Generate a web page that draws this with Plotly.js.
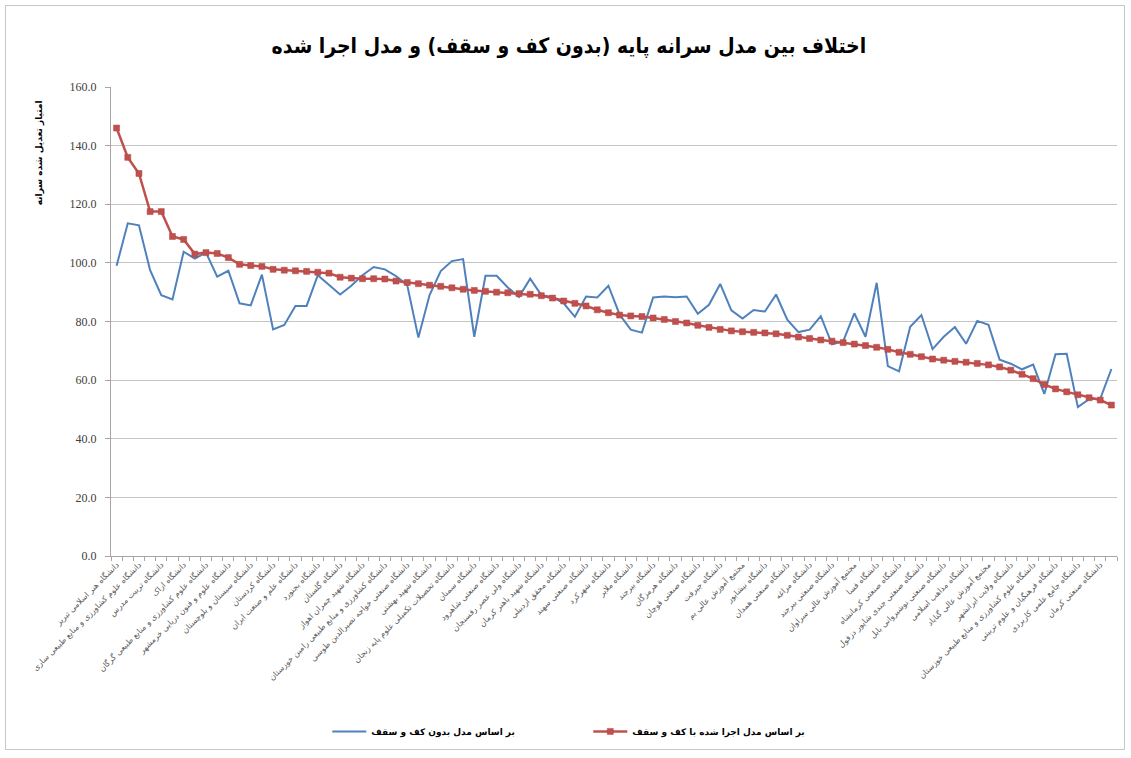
<!DOCTYPE html>
<html>
<head>
<meta charset="utf-8">
<script src="https://cdn.plot.ly/plotly-3.0.1.min.js"></script>
<style>
  html, body { margin: 0; padding: 0; background: #ffffff; }
  #wrap { position: relative; width: 1131px; height: 758px; }
  #chart { width: 1131px; height: 758px; }
  #frame { position: absolute; left: 5px; top: 5px; width: 1118px; height: 743px;
           border: 1px solid #c8c8c8; pointer-events: none; }
</style>
</head>
<body>
<div id="wrap"><div id="chart"></div><div id="frame"></div></div>
<script>
const categories = [
  "دانشگاه هنر اسلامی تبریز", "دانشگاه صنعتی شریف",
  "دانشگاه علوم کشاورزی و منابع طبیعی ساری", "دانشگاه تهران",
  "دانشگاه تربیت مدرس", "دانشگاه شیراز",
  "دانشگاه اراک", "دانشگاه صنعتی امیرکبیر",
  "دانشگاه علوم کشاورزی و منابع طبیعی گرگان", "دانشگاه تبریز",
  "دانشگاه علوم و فنون دریایی خرمشهر", "دانشگاه اصفهان",
  "دانشگاه سیستان و بلوچستان", "دانشگاه فردوسی مشهد",
  "دانشگاه کردستان", "دانشگاه صنعتی اصفهان",
  "دانشگاه علم و صنعت ایران", "دانشگاه گیلان",
  "دانشگاه بجنورد", "دانشگاه ارومیه",
  "دانشگاه گلستان", "دانشگاه زنجان",
  "دانشگاه شهید چمران اهواز", "دانشگاه رازی",
  "دانشگاه کشاورزی و منابع طبیعی رامین خوزستان", "دانشگاه یزد",
  "دانشگاه صنعتی خواجه نصیرالدین طوسی", "دانشگاه یاسوج",
  "دانشگاه شهید بهشتی", "دانشگاه کاشان",
  "دانشگاه تحصیلات تکمیلی علوم پایه زنجان", "دانشگاه علامه طباطبایی",
  "دانشگاه سمنان", "دانشگاه الزهرا",
  "دانشگاه صنعتی شاهرود", "دانشگاه بوعلی سینا",
  "دانشگاه ولی عصر رفسنجان", "دانشگاه مازندران",
  "دانشگاه شهید باهنر کرمان", "دانشگاه خوارزمی",
  "دانشگاه محقق اردبیلی", "دانشگاه قم",
  "دانشگاه صنعتی سهند", "دانشگاه لرستان",
  "دانشگاه شهرکرد", "دانشگاه شاهد",
  "دانشگاه ملایر", "دانشگاه صنعتی ارومیه",
  "دانشگاه بیرجند", "دانشگاه ایلام",
  "دانشگاه هرمزگان", "دانشگاه خلیج فارس",
  "دانشگاه صنعتی قوچان", "دانشگاه دامغان",
  "دانشگاه جیرفت", "دانشگاه حکیم سبزواری",
  "مجتمع آموزش عالی بم", "دانشگاه کوثر",
  "دانشگاه نیشابور", "دانشگاه گنبد کاووس",
  "دانشگاه صنعتی همدان", "دانشگاه تفرش",
  "دانشگاه مراغه", "دانشگاه زابل",
  "دانشگاه صنعتی بیرجند", "دانشگاه اردکان",
  "مجتمع آموزش عالی سراوان", "دانشگاه شهید مدنی آذربایجان",
  "دانشگاه فسا", "دانشگاه حضرت معصومه",
  "دانشگاه صنعتی کرمانشاه", "دانشگاه بناب",
  "دانشگاه صنعتی جندی شاپور دزفول", "دانشگاه سلمان فارسی کازرون",
  "دانشگاه صنعتی نوشیروانی بابل", "دانشگاه پیام نور",
  "دانشگاه مذاهب اسلامی", "دانشگاه صنعتی سیرجان",
  "مجتمع آموزش عالی گناباد", "دانشگاه هنر اصفهان",
  "دانشگاه ولایت ایرانشهر", "دانشگاه هنر شیراز",
  "دانشگاه علوم کشاورزی و منابع طبیعی خوزستان", "دانشگاه صنعتی اراک",
  "دانشگاه فرهنگیان و علوم تربیتی", "دانشگاه ملی مهارت",
  "دانشگاه جامع علمی کاربردی", "دانشگاه خاتم",
  "دانشگاه صنعتی کرمان", "دانشگاه سلطان قابوس"
];

// based on model without floor and ceiling
const baseValues = [
  99.0, 113.5, 112.8, 97.5, 89.0, 87.5, 103.8, 101.5, 103.5, 95.3,
  97.3, 86.2, 85.5, 96.0, 77.3, 78.8, 85.3, 85.3, 95.8, 92.5,
  89.2, 92.2, 95.8, 98.6, 97.8, 95.5, 92.4, 74.5, 89.0, 97.2,
  100.6, 101.3, 74.8, 95.6, 95.6, 91.6, 88.4, 94.6, 89.0, 88.4,
  86.2, 81.6, 88.5, 88.2, 92.2, 82.4, 77.2, 76.2, 88.2, 88.5,
  88.3, 88.5, 82.6, 85.7, 92.8, 83.8, 81.0, 83.9, 83.4, 89.2,
  80.6, 76.4, 77.2, 81.8, 72.2, 73.2, 82.8, 74.8, 93.2, 64.8,
  63.0, 78.2, 82.2, 70.6, 74.8, 78.1, 72.4, 80.2, 78.9, 67.0,
  65.6, 63.7, 65.3, 55.3, 68.8, 69.0, 50.8, 53.5, 53.6, 63.8
];

// based on implemented model with floor and ceiling
const implValues = [
  146.0, 136.0, 130.5, 117.5, 117.5, 109.0, 108.0, 103.0, 103.5, 103.2,
  101.8, 99.5, 99.1, 98.8, 97.8, 97.5, 97.3, 97.1, 96.8, 96.5,
  95.1, 94.8, 94.6, 94.6, 94.5, 93.8, 93.3, 92.9, 92.4, 92.0,
  91.5, 91.0, 90.6, 90.3, 90.0, 89.8, 89.5, 89.3, 88.8, 88.0,
  87.0, 86.2, 85.3, 84.0, 83.0, 82.2, 81.9, 81.7, 81.2, 80.7,
  80.0, 79.5, 78.7, 78.0, 77.3, 76.8, 76.5, 76.3, 76.1, 75.8,
  75.3, 74.7, 74.2, 73.7, 73.3, 72.8, 72.3, 71.8, 71.2, 70.5,
  69.5, 68.8, 68.0, 67.2, 66.8, 66.4, 66.1, 65.7, 65.2, 64.5,
  63.4, 62.0, 60.5, 58.5, 57.0, 56.0, 55.0, 54.0, 53.2, 51.5
];

const seriesNames = ["بر اساس مدل بدون کف و سقف", "بر اساس مدل اجرا شده با کف و سقف"];
const chartTitle = "اختلاف بین مدل سرانه پایه (بدون کف و سقف) و مدل اجرا شده";
const yTitle = "امتیاز تعدیل شده سرانه";
const yTicks = [0, 20, 40, 60, 80, 100, 120, 140, 160];

const shownLabels = categories.map((c, i) => (i % 2 === 0 ? c : ""));

const traces = [
  {
    x: categories, y: baseValues, name: seriesNames[0], type: "scatter", mode: "lines",
    line: { color: "#4f81bd", width: 2 }
  },
  {
    x: categories, y: implValues, name: seriesNames[1], type: "scatter", mode: "lines+markers",
    line: { color: "#c0504d", width: 2.5 },
    marker: { symbol: "square", size: 6, color: "#c0504d", line: { color: "#b04542", width: 0.5 } }
  }
];

const layout = {
  width: 1131, height: 758,
  paper_bgcolor: "#ffffff", plot_bgcolor: "#ffffff",
  margin: { l: 111, r: 14, t: 87, b: 195 },
  showlegend: true,
  title: {
    text: chartTitle, x: 0.503, xref: "container", xanchor: "center",
    y: 0.94, yref: "container", yanchor: "middle",
    font: { family: "DejaVu Sans Condensed, DejaVu Sans", size: 21, color: "#000000", weight: "bold" }
  },
  xaxis: {
    type: "category",
    categoryorder: "array", categoryarray: categories,
    range: [-0.5, categories.length - 0.5], autorange: false,
    tickmode: "array", tickvals: categories, ticktext: shownLabels,
    tickangle: -45, tickson: "boundaries",
    ticks: "outside", ticklen: 4, tickcolor: "#a6a6a6",
    tickfont: { family: "DejaVu Sans", size: 8, color: "#595959" },
    showgrid: false, showline: true, linecolor: "#a6a6a6", linewidth: 1,
    zeroline: false, automargin: false, fixedrange: true
  },
  yaxis: {
    range: [0, 160], autorange: false, tickmode: "array", tickvals: yTicks,
    tickformat: ".1f",
    ticks: "outside", ticklen: 5, tickcolor: "#a6a6a6", ticklabelstandoff: 6,
    tickfont: { family: "Liberation Serif", size: 12, color: "#404040" },
    showgrid: true, gridcolor: "#c4c4c4", gridwidth: 1,
    showline: true, linecolor: "#a6a6a6", linewidth: 1,
    zeroline: false, automargin: false, fixedrange: true
  },
  legend: {
    orientation: "h", x: 0.215, xanchor: "left", y: -0.374, yanchor: "middle",
    font: { family: "DejaVu Sans", size: 9, color: "#000000", weight: "bold" },
    itemwidth: 34, entrywidth: 212, entrywidthmode: "pixels",
    tracegroupgap: 0, bgcolor: "rgba(0,0,0,0)"
  },
  annotations: [
    {
      text: yTitle, textangle: -90, showarrow: false,
      xref: "paper", yref: "paper", x: -0.071, y: 0.86, xanchor: "center", yanchor: "middle",
      font: { family: "DejaVu Sans", size: 9, color: "#000000", weight: "bold" }
    }
  ]
};

Plotly.newPlot("chart", traces, layout, { displayModeBar: false, staticPlot: true });
</script>
</body>
</html>
